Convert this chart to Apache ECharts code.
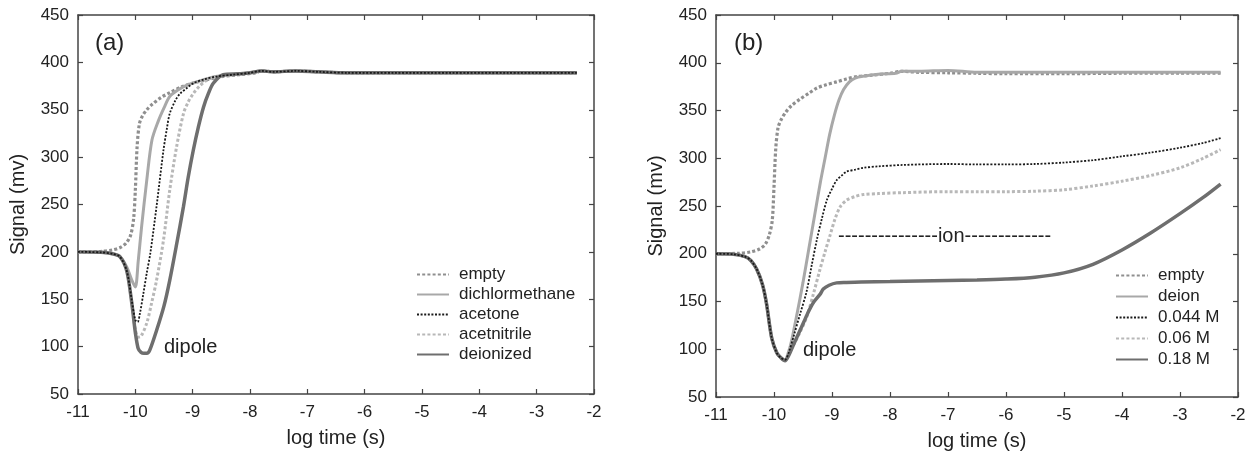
<!DOCTYPE html>
<html>
<head>
<meta charset="utf-8">
<script src="https://cdn.jsdelivr.net/npm/echarts@6/dist/echarts.min.js"></script>
<style>html,body{margin:0;padding:0;background:#fff}#c{width:1251px;height:456px}</style>
</head>
<body>
<div id="c"></div>
<script>
// ---------- data: panel (a) ----------
const xTicks = [-11, -10, -9, -8, -7, -6, -5, -4, -3, -2];
const yTicks = [50, 100, 150, 200, 250, 300, 350, 400, 450];

const aEmptyX = [-11, -10.6, -10.4, -10.25, -10.15, -10.08, -10.03, -10.0, -9.97, -9.93, -9.88, -9.8, -9.7, -9.55, -9.4, -9.2, -9.0, -8.8, -8.5, -8.2, -7.9, -7.8, -7.6, -7.2, -6.8, -6.3, -5.5, -4.5, -3.5, -2.3];
const aEmptyY = [200, 200.5, 202, 205, 210, 218, 235, 265, 310, 335, 343, 350, 356, 363, 368, 374, 378, 381, 385, 387, 389, 391, 390, 391, 390, 389, 389, 389, 389, 389];

const aDcmX = [-11, -10.6, -10.4, -10.27, -10.15, -10.06, -10.0, -9.95, -9.89, -9.8, -9.71, -9.6, -9.5, -9.4, -9.25, -9.1, -8.9, -8.6, -8.3, -8.0, -7.8, -7.6, -7.2, -6.8, -6.3, -5.5, -4.5, -3.5, -2.3];
const aDcmY = [200, 199.5, 198, 195, 184, 170, 163, 190, 227, 276, 318, 338, 352, 364, 371, 376, 380, 385, 387, 389, 391, 390, 391, 390, 389, 389, 389, 389, 389];

const aAcetoneX = [-11, -10.6, -10.4, -10.27, -10.15, -10.06, -10.0, -9.96, -9.92, -9.86, -9.8, -9.74, -9.63, -9.51, -9.45, -9.4, -9.3, -9.22, -9.1, -8.99, -8.8, -8.6, -8.3, -8.0, -7.8, -7.6, -7.2, -6.8, -6.3, -5.5, -4.5, -3.5, -2.3];
const aAcetoneY = [200, 199.5, 198, 195, 180, 148, 128, 126, 135, 156, 178, 198, 248, 307, 330, 346, 360, 367, 373, 378, 382, 385, 387, 389, 391, 390, 391, 390, 389, 389, 389, 389, 389];

const aAcetnX = [-11, -10.6, -10.4, -10.27, -10.15, -10.06, -10.0, -9.95, -9.9, -9.8, -9.72, -9.63, -9.51, -9.4, -9.28, -9.16, -9.08, -8.99, -8.88, -8.76, -8.6, -8.3, -8.0, -7.8, -7.6, -7.2, -6.8, -6.3, -5.5, -4.5, -3.5, -2.3];
const aAcetnY = [200, 199.5, 198, 195, 180, 146, 118, 110, 111, 125, 145, 170, 212, 265, 311, 346, 358, 367, 375, 381, 385, 387, 389, 391, 390, 391, 390, 389, 389, 389, 389, 389];

const aDeionX = [-11, -10.6, -10.4, -10.27, -10.15, -10.06, -10.0, -9.95, -9.9, -9.85, -9.8, -9.75, -9.63, -9.5, -9.4, -9.28, -9.16, -9.08, -8.99, -8.9, -8.81, -8.72, -8.64, -8.47, -8.2, -8.0, -7.8, -7.6, -7.2, -6.8, -6.3, -5.5, -4.5, -3.5, -2.3];
const aDeionY = [200, 199.5, 198, 195, 180, 145, 115, 98, 94, 93, 93, 96, 117, 143, 170, 208, 248, 278, 307, 332, 353, 368, 378, 387, 388, 389, 391, 390, 391, 390, 389, 389, 389, 389, 389];

// ---------- data: panel (b) ----------
const bEmptyX = [-11, -10.6, -10.4, -10.25, -10.15, -10.08, -10.03, -10.0, -9.97, -9.93, -9.88, -9.8, -9.7, -9.55, -9.4, -9.26, -9.1, -8.92, -8.75, -8.57, -8.3, -8.0, -7.8, -7.5, -7.0, -6.5, -6.0, -5.0, -4.0, -3.0, -2.3];
const bEmptyY = [200, 200.5, 202, 205, 210, 220, 235, 270, 310, 332, 340, 348, 355, 362, 368, 373.5, 377, 380, 383, 385.5, 387, 389, 391, 390, 389.5, 389, 388.5, 388.5, 389, 389, 389];

const bDeionX = [-11, -10.7, -10.5, -10.4, -10.3, -10.2, -10.13, -10.04, -9.95, -9.88, -9.81, -9.75, -9.7, -9.6, -9.5, -9.4, -9.3, -9.2, -9.12, -9.04, -8.96, -8.88, -8.8, -8.7, -8.6, -8.45, -8.2, -7.9, -7.8, -7.5, -7.0, -6.5, -6.0, -5.0, -4.0, -3.0, -2.3];
const bDeionY = [200, 199.5, 197, 193, 184, 168, 148, 112, 96, 91, 89, 97, 108, 138, 170, 205, 240, 275, 300, 325, 345, 361, 372, 380, 384, 386, 388, 389, 391, 391, 392, 390, 390, 390, 390, 390, 390];

const bM044X = [-11, -10.7, -10.5, -10.4, -10.3, -10.2, -10.13, -10.04, -9.95, -9.88, -9.81, -9.75, -9.65, -9.55, -9.44, -9.35, -9.26, -9.17, -9.09, -9.0, -8.92, -8.83, -8.75, -8.6, -8.46, -8.2, -7.77, -7.0, -6.5, -6.0, -5.5, -5.0, -4.5, -4.0, -3.5, -3.0, -2.6, -2.3];
const bM044Y = [200, 199.5, 197, 193, 184, 168, 148, 112, 96, 91, 89, 96, 116, 137, 160, 188, 215, 238, 256, 268, 277, 282, 286, 288, 290, 291.5, 293, 294, 293.5, 293.5, 294, 295.5, 298, 302, 306, 311, 316, 321];

const bM06X = [-11, -10.7, -10.5, -10.4, -10.3, -10.2, -10.13, -10.04, -9.95, -9.88, -9.81, -9.75, -9.65, -9.55, -9.44, -9.32, -9.21, -9.12, -9.03, -8.95, -8.86, -8.75, -8.6, -8.46, -8.2, -7.77, -7.0, -6.5, -6.0, -5.5, -5.0, -4.5, -4.0, -3.5, -3.0, -2.6, -2.3];
const bM06Y = [200, 199.5, 197, 193, 184, 168, 148, 112, 96, 91, 89, 95, 106, 118, 133, 158, 183, 202, 220, 236, 249, 256, 260, 262, 263, 264, 265, 265, 265, 265.5, 267, 271, 276, 282, 290, 300, 309];

const bM18X = [-11, -10.7, -10.5, -10.4, -10.3, -10.2, -10.13, -10.04, -9.95, -9.88, -9.81, -9.75, -9.67, -9.58, -9.49, -9.4, -9.32, -9.2, -9.15, -9.05, -8.92, -8.75, -8.5, -8.0, -7.5, -7.0, -6.5, -6.0, -5.5, -5.0, -4.5, -4.0, -3.5, -3.0, -2.6, -2.3];
const bM18Y = [200, 199.5, 197, 193, 184, 168, 148, 112, 96, 91, 88, 93, 104, 116, 128, 140, 149, 158, 163, 167, 169.5, 170, 170.5, 171, 171.5, 172, 172.5, 173.5, 175.5, 180, 189, 204, 222, 242, 259, 273];

const namesA = ['empty', 'dichlormethane', 'acetone', 'acetnitrile', 'deionized'];
const namesB = ['empty', 'deion', '0.044 M', '0.06 M', '0.18 M'];

// ---------- build ----------
const zip = (xs, ys) => xs.map((x, i) => [x, ys[i]]);
const FONT = '"Liberation Sans", Arial, sans-serif';
const TXT = '#222';
const AX = '#444';

const styles = {
  empty:   {color: '#8f8f8f', width: 3.2, type: [3, 2.2]},
  light:   {color: '#a8a8a8', width: 3, type: 'solid'},
  black:   {color: '#1a1a1a', width: 1.8, type: [2, 1.6]},
  lightDot:{color: '#b8b8b8', width: 3, type: [3, 2.2]},
  dark:    {color: '#6e6e6e', width: 3.5, type: 'solid'}
};

function xAx(gi, bottom) {
  return {
    type: 'value', gridIndex: gi, position: bottom ? 'bottom' : 'top',
    min: -11, max: -2, interval: 1,
    name: bottom ? 'log time (s)' : '', nameLocation: 'middle', nameGap: 34,
    nameTextStyle: {fontFamily: FONT, fontSize: 20, color: TXT},
    axisLine: {show: true, onZero: false, lineStyle: {color: AX, width: 1.5}},
    axisTick: {show: true, inside: true, length: 5, lineStyle: {color: AX, width: 1.2}},
    axisLabel: {show: bottom, margin: 10, fontFamily: FONT, fontSize: 17, color: TXT,
      formatter: v => xTicks.includes(v) ? String(v) : ''},
    splitLine: {show: false}
  };
}
function yAx(gi, left) {
  return {
    type: 'value', gridIndex: gi, position: left ? 'left' : 'right',
    min: 50, max: 450, interval: 50,
    name: left ? 'Signal (mv)' : '', nameLocation: 'middle', nameGap: 50, nameRotate: 90,
    nameTextStyle: {fontFamily: FONT, fontSize: 20, color: TXT},
    axisLine: {show: true, onZero: false, lineStyle: {color: AX, width: 1.5}},
    axisTick: {show: true, inside: true, length: 5, lineStyle: {color: AX, width: 1.2}},
    axisLabel: {show: left, margin: 9, fontFamily: FONT, fontSize: 17, color: TXT,
      formatter: v => yTicks.includes(v) ? String(v) : ''},
    splitLine: {show: false}
  };
}
function ser(name, xs, ys, st, axi) {
  return {
    type: 'line', name, data: zip(xs, ys), xAxisIndex: axi, yAxisIndex: axi,
    showSymbol: false, symbol: 'none', smooth: 0.3, animation: false,
    lineStyle: {color: st.color, width: st.width, type: st.type},
    itemStyle: {color: st.color}
  };
}
const legendCommon = {
  orient: 'vertical', itemWidth: 32, itemHeight: 14, selectedMode: false,
  itemStyle: {color: 'transparent', borderColor: 'transparent', borderWidth: 0, opacity: 0},
  textStyle: {fontFamily: FONT, fontSize: 17, color: TXT, lineHeight: 16, padding: [0, 0, 0, 5]}
};

const chart = echarts.init(document.getElementById('c'), null, {renderer: 'canvas'});
chart.setOption({
  backgroundColor: '#fff',
  animation: false,
  grid: [
    {left: 78, top: 15, width: 516, height: 379},
    {left: 716, top: 15, width: 522, height: 383}
  ],
  xAxis: [xAx(0, true), xAx(0, false), xAx(1, true), xAx(1, false)],
  yAxis: [yAx(0, true), yAx(0, false), yAx(1, true), yAx(1, false)],
  legend: [
    Object.assign({data: namesA, left: 411, top: 261, itemGap: 3}, legendCommon),
    Object.assign({data: namesB, left: 1110, top: 262, itemGap: 4}, legendCommon)
  ],
  graphic: [
    {type: 'text', left: 95, top: 31, style: {text: '(a)', font: '24px ' + FONT, fill: TXT}},
    {type: 'text', left: 734, top: 31, style: {text: '(b)', font: '24px ' + FONT, fill: TXT}},
    {type: 'text', left: 164, top: 337, style: {text: 'dipole', font: '20px ' + FONT, fill: TXT}},
    {type: 'text', left: 803, top: 340, style: {text: 'dipole', font: '20px ' + FONT, fill: TXT}},
    {type: 'text', left: 838, top: 226, style: {text: '---------------ion-------------', font: '20px ' + FONT, fill: TXT}}
  ],
  series: [
    ser('empty', aEmptyX, aEmptyY, styles.empty, 0),
    ser('dichlormethane', aDcmX, aDcmY, styles.light, 0),
    ser('acetnitrile', aAcetnX, aAcetnY, styles.lightDot, 0),
    ser('deionized', aDeionX, aDeionY, styles.dark, 0),
    ser('acetone', aAcetoneX, aAcetoneY, styles.black, 0),
    ser('empty', bEmptyX, bEmptyY, styles.empty, 2),
    ser('deion', bDeionX, bDeionY, styles.light, 2),
    ser('0.06 M', bM06X, bM06Y, styles.lightDot, 2),
    ser('0.18 M', bM18X, bM18Y, styles.dark, 2),
    ser('0.044 M', bM044X, bM044Y, styles.black, 2)
  ]
});
</script>
</body>
</html>
